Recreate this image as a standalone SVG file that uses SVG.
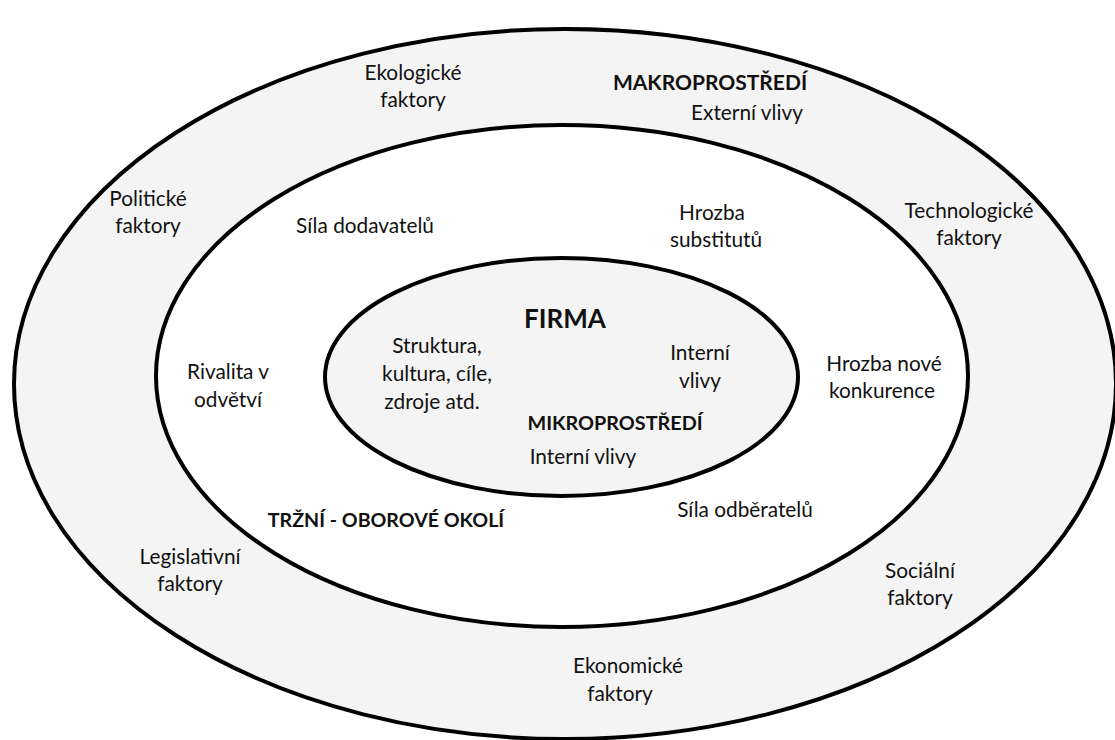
<svg xmlns="http://www.w3.org/2000/svg" width="1115" height="740" viewBox="0 0 1115 740">
<style>
.ring{stroke:#000;stroke-width:4}
.t{font-family:Lato,"Liberation Sans",sans-serif;font-size:20.8px;fill:#111;text-anchor:middle}
.b{font-weight:bold}
</style>
<rect width="1115" height="740" fill="#fff"/>
<g id="makro">
<ellipse class="ring" cx="565" cy="384" rx="551" ry="355" fill="#f4f4f4"/>
</g>
<g id="trzni">
<ellipse class="ring" cx="562" cy="376" rx="406" ry="251" fill="#fff"/>
</g>
<g id="firma">
<ellipse class="ring" cx="561.5" cy="377" rx="236.5" ry="119" fill="#f4f4f4" stroke-width="3.5"/>
</g>
<g id="labels-makro">
<text class="t" x="413" y="80">Ekologické</text>
<text class="t" x="413" y="107">faktory</text>
<text class="t b" x="710" y="90" style="font-size:21px">MAKROPROSTŘEDÍ</text>
<text class="t" x="747" y="120">Externí vlivy</text>
<text class="t" x="148" y="206">Politické</text>
<text class="t" x="148" y="233">faktory</text>
<text class="t" x="969" y="218">Technologické</text>
<text class="t" x="969" y="245">faktory</text>
<text class="t" x="190" y="564">Legislativní</text>
<text class="t" x="190" y="591">faktory</text>
<text class="t" x="920" y="578">Sociální</text>
<text class="t" x="920" y="605">faktory</text>
<text class="t" x="628" y="673">Ekonomické</text>
<text class="t" x="620" y="701">faktory</text>
</g>
<g id="labels-trzni">
<text class="t" x="365" y="233">Síla dodavatelů</text>
<text class="t" x="712" y="220">Hrozba</text>
<text class="t" x="716" y="247">substitutů</text>
<text class="t" x="228" y="379">Rivalita v</text>
<text class="t" x="228" y="407">odvětví</text>
<text class="t" x="884" y="371">Hrozba nové</text>
<text class="t" x="882" y="398">konkurence</text>
<text class="t b" x="386" y="527" style="font-size:19.6px">TRŽNÍ - OBOROVÉ OKOLÍ</text>
<text class="t" x="745" y="517">Síla odběratelů</text>
</g>
<g id="labels-firma">
<text class="t b" x="565" y="328" style="font-size:26px">FIRMA</text>
<text class="t" x="437" y="353">Struktura,</text>
<text class="t" x="437" y="381">kultura, cíle,</text>
<text class="t" x="432" y="409">zdroje atd.</text>
<text class="t" x="700" y="360">Interní</text>
<text class="t" x="700" y="388">vlivy</text>
<text class="t b" x="615" y="430" style="font-size:19.8px">MIKROPROSTŘEDÍ</text>
<text class="t" x="583" y="464">Interní vlivy</text>
</g>
</svg>
